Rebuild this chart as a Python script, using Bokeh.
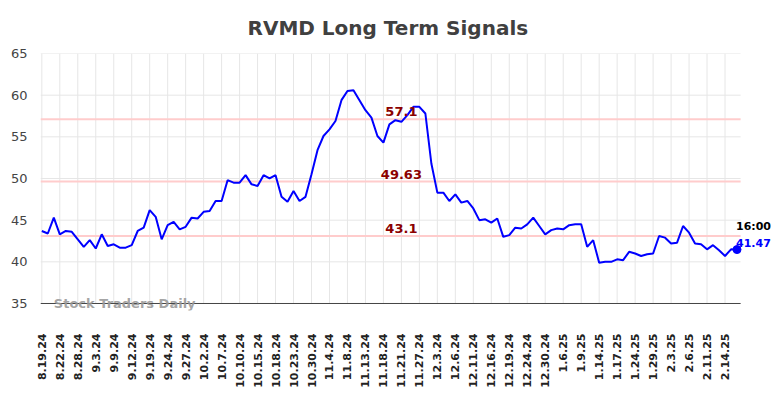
from bokeh.plotting import figure
from bokeh.models import FixedTicker, Label, Range1d
from bokeh.embed import file_html
from bokeh.resources import INLINE

title = "RVMD Long Term Signals"
tick_labels = ["8.19.24", "8.22.24", "8.28.24", "9.3.24", "9.9.24", "9.12.24", "9.19.24",
               "9.24.24", "9.27.24", "10.2.24", "10.7.24", "10.10.24", "10.15.24", "10.18.24",
               "10.23.24", "10.30.24", "11.4.24", "11.8.24", "11.13.24", "11.18.24", "11.21.24",
               "11.27.24", "12.3.24", "12.6.24", "12.11.24", "12.16.24", "12.19.24", "12.24.24",
               "12.30.24", "1.6.25", "1.9.25", "1.14.25", "1.17.25", "1.24.25", "1.29.25",
               "2.3.25", "2.6.25", "2.11.25", "2.14.25"]
tick_step = 3
y_ticks = [35, 40, 45, 50, 55, 60, 65]

values = [43.7, 43.4, 45.3, 43.3, 43.7, 43.6, 42.7, 41.8, 42.6, 41.6,
          43.3, 41.9, 42.1, 41.7, 41.7, 42.0, 43.7, 44.1, 46.2, 45.4,
          42.7, 44.4, 44.8, 43.9, 44.2, 45.3, 45.2, 46.0, 46.1, 47.3,
          47.3, 49.8, 49.5, 49.5, 50.4, 49.3, 49.1, 50.4, 50.0, 50.4,
          47.8, 47.2, 48.5, 47.3, 47.8, 50.5, 53.4, 55.1, 55.9, 56.9,
          59.4, 60.5, 60.6, 59.4, 58.2, 57.3, 55.1, 54.3, 56.5, 57.0,
          56.8, 57.6, 58.6, 58.6, 57.8, 51.8, 48.3, 48.3, 47.3, 48.1,
          47.1, 47.3, 46.4, 45.0, 45.1, 44.7, 45.2, 43.0, 43.2, 44.1,
          44.0, 44.5, 45.3, 44.3, 43.3, 43.8, 44.0, 43.9, 44.4, 44.5,
          44.5, 41.8, 42.6, 39.9, 40.0, 40.0, 40.3, 40.2, 41.2, 41.0,
          40.7, 40.9, 41.0, 43.1, 42.9, 42.2, 42.3, 44.3, 43.5, 42.2,
          42.1, 41.5, 42.0, 41.4, 40.7, 41.5, 41.47]
signal_levels = [57.1, 49.63, 43.1]
signal_labels = ["57.1", "49.63", "43.1"]
last_time = "16:00"
last_value_label = "41.47"
watermark = "Stock Traders Daily"

x = list(range(len(values)))

# visible plot area (data units)
x_lo, x_hi = -0.22, 116.6
y_lo, y_hi = 35, 65

p = figure(frame_width=744, frame_height=257, output_backend="svg", toolbar_location=None,
           x_range=Range1d(x_lo, x_lo + 744 / 5.993), y_range=Range1d(65 - 257 / 8.333, 65),
           min_border_left=40, min_border_top=53, min_border_right=0, min_border_bottom=88)
p.title.text = title
p.title.align = "left"
p.title.offset = 207
p.title.standoff = 27
p.title.text_font = "DejaVu Sans"
p.title.text_font_size = "20px"
p.title.text_font_style = "bold"
p.title.text_color = "#404040"
p.outline_line_color = None
p.background_fill_color = "white"
p.border_fill_color = "white"
p.xgrid.grid_line_color = None
p.ygrid.grid_line_color = None

tick_pos = [i * tick_step for i in range(len(tick_labels))]
p.xaxis.ticker = FixedTicker(ticks=tick_pos)
p.xaxis.major_label_overrides = {tp: lab for tp, lab in zip(tick_pos, tick_labels)}
p.xaxis.major_label_orientation = 1.5708
p.xaxis.major_label_text_font = "DejaVu Sans"
p.xaxis.major_label_text_font_size = "11px"
p.xaxis.major_label_text_font_style = "bold"
p.xaxis.major_label_text_color = "#222222"
p.xaxis.major_label_standoff = 17
p.xaxis.major_tick_line_color = None
p.xaxis.minor_tick_line_color = None
p.xaxis.axis_line_color = None

p.yaxis.ticker = FixedTicker(ticks=y_ticks)
p.yaxis.major_label_text_font = "DejaVu Sans"
p.yaxis.major_label_text_font_size = "13px"
p.yaxis.major_label_text_color = "#444444"
p.yaxis.major_tick_line_color = None
p.yaxis.minor_tick_line_color = None
p.yaxis.axis_line_color = None
p.yaxis.major_label_standoff = 7

# grid drawn only over the visible plot area
p.segment(x0=tick_pos, y0=[y_lo] * len(tick_pos), x1=tick_pos, y1=[y_hi] * len(tick_pos),
          line_color="#e6e6e6", line_width=1)
p.segment(x0=[x_lo] * len(y_ticks), y0=y_ticks, x1=[x_hi] * len(y_ticks), y1=y_ticks,
          line_color="#e6e6e6", line_width=1)

p.segment(x0=[x_lo] * 3, y0=signal_levels, x1=[x_hi] * 3, y1=signal_levels,
          line_color="#ffcccc", line_width=2)
for lvl, lab in zip(signal_levels, signal_labels):
    p.add_layout(Label(x=60, y=lvl, text=lab, text_align="center", text_baseline="bottom",
                       y_offset=3, text_font="DejaVu Sans", text_font_size="13px",
                       text_font_style="bold", text_color="#8b0000"))

# x axis line
p.segment(x0=[x_lo], y0=[y_lo], x1=[x_hi], y1=[y_lo], line_color="#444444", line_width=1)

p.line(x, values, line_color="#0000ff", line_width=2)
p.scatter([x[-1]], [values[-1]], size=8, fill_color="#0000ff", line_color="#0000ff")

p.add_layout(Label(x=x[-1], y=values[-1], text=last_time, text_align="left",
                   text_baseline="bottom", x_offset=-1, y_offset=17,
                   text_font="DejaVu Sans", text_font_size="11px", text_font_style="bold",
                   text_color="#000000"))
p.add_layout(Label(x=x[-1], y=values[-1], text=last_value_label, text_align="left",
                   text_baseline="bottom", x_offset=-1, y_offset=3,
                   text_font="DejaVu Sans", text_font_size="11px", text_font_style="bold",
                   text_color="#0000ff"))

p.add_layout(Label(x=2, y=y_lo, text=watermark, text_align="left", text_baseline="middle",
                   text_font="DejaVu Sans", text_font_size="13px",
                   text_font_style="bold", text_color="#999999", text_alpha=0.9))

open("out.html", "w").write(file_html(p, INLINE))
